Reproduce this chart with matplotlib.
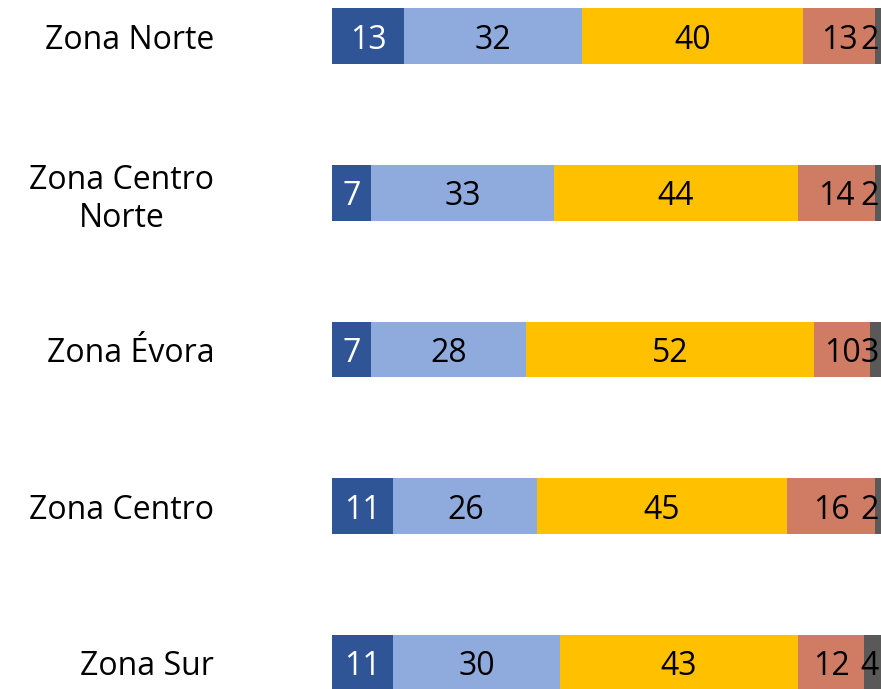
import matplotlib.pyplot as plt
import numpy as np

zonas = ["Zona Norte", "Zona Centro\nNorte", "Zona Évora", "Zona Centro", "Zona Sur"]
seg1 = [13, 7, 7, 11, 11]
seg2 = [32, 33, 28, 26, 30]
seg3 = [40, 44, 52, 45, 43]
seg4 = [13, 14, 10, 16, 12]
seg5 = [2, 2, 3, 2, 4]

series = [seg1, seg2, seg3, seg4, seg5]
colores = ["#2F5597", "#8FAADC", "#FFC000", "#D07B63", "#595959"]
color_txt = ["white", "black", "black", "black", "black"]

plt.rcParams['font.family'] = ['Open Sans', 'DejaVu Sans']

fig = plt.figure(figsize=(8.81, 6.89), dpi=100)
ax = fig.add_axes([332.3 / 881, 0, 1 - 332.3 / 881, 1])

y = np.arange(len(zonas))
xmax = 99.0
izq = np.zeros(len(zonas))
for vals, col, tc in zip(series, colores, color_txt):
    vals = np.array(vals)
    ax.barh(y, vals, left=izq, height=0.357, color=col, edgecolor="none")
    for yi, l, v in zip(y, izq, vals):
        cx = l + v / 2
        if cx + 1.4 > xmax:
            ax.text(xmax - 0.45, yi, str(v), ha="right", va="center_baseline",
                    fontsize=23, color=tc)
        else:
            ax.text(cx, yi, str(v), ha="center", va="center_baseline",
                    fontsize=23, color=tc)
    izq = izq + vals

ax.set_xlim(0, xmax)
ax.set_ylim(4.166, -0.2297)
ax.set_yticks(y)
ax.set_yticklabels(zonas, fontsize=23, ha="right", multialignment="center")
ax.tick_params(axis="y", length=0, pad=85)
ax.set_xticks([])
for s in ax.spines.values():
    s.set_visible(False)

fig.savefig("out.png", dpi=100)
